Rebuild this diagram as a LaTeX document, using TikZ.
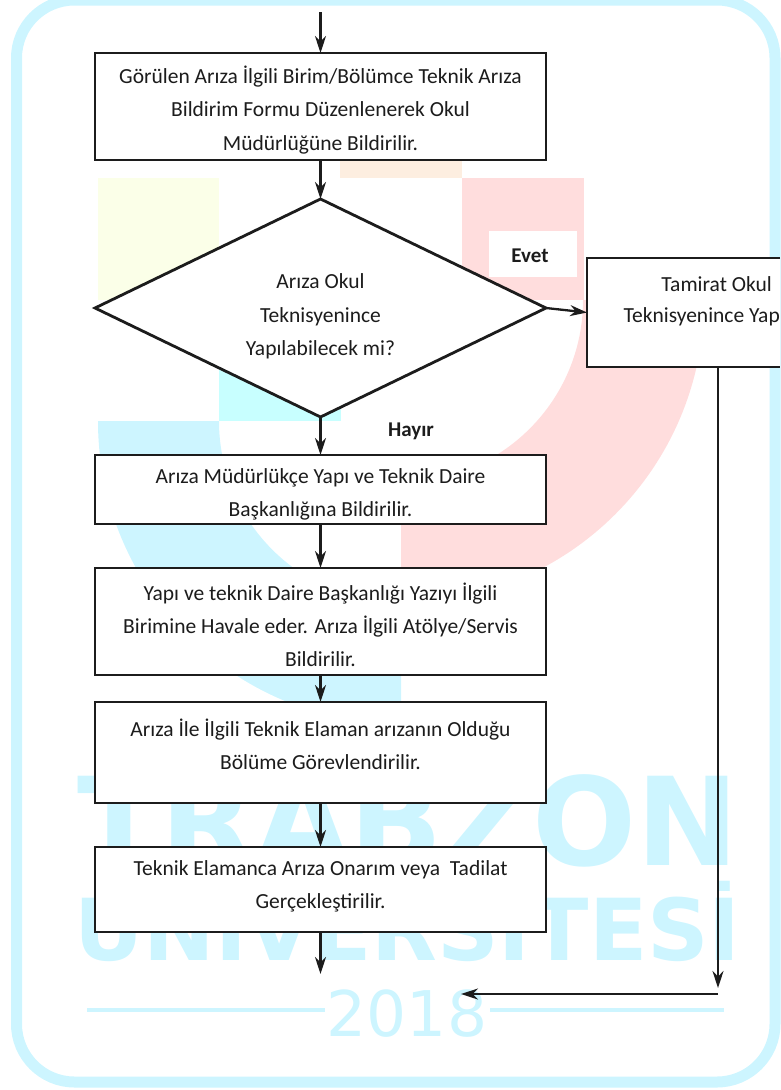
\documentclass[tikz,border=0pt]{standalone}
\usepackage{fontspec}
\setmainfont{Carlito}
\newfontfamily\wmfont{DejaVu Sans}
\usetikzlibrary{arrows.meta,shapes.geometric}
\definecolor{wm}{HTML}{CDF5FF}
\definecolor{wmsq}{HTML}{C8FFFF}
\definecolor{wmpink}{HTML}{FFDDDD}
\definecolor{wmyel}{HTML}{FBFFE8}
\definecolor{wmora}{HTML}{FDEEE0}
\definecolor{ink}{HTML}{1C1C1C}
\tikzset{
  x=1pt,y=-1pt,
  flowbox/.style={draw=ink,line width=2.8pt,fill=white,minimum width=451pt,inner sep=0pt,outer sep=0pt},
  plainbox/.style={fill=white,inner sep=0pt,outer sep=0pt},
  decide/.style={diamond,draw=ink,line width=2.8pt,fill=white,minimum width=451pt,minimum height=218pt,inner sep=0pt,outer sep=0pt},
  txt/.style={align=center,text=ink,inner sep=0pt,font=\fontsize{21.5}{33.3}\selectfont},
  onetxt/.style={text=ink,inner sep=0pt,font=\fontsize{21.5}{26}\selectfont},
  boldtxt/.style={text=ink,inner sep=0pt,font=\fontsize{21}{26}\selectfont\bfseries},
  flow/.style={draw=ink,line width=2.3pt,-{Stealth[length=17pt,width=11pt]}},
  wmtxt/.style={text=wm,inner sep=0pt},
}
\begin{document}
\begin{tikzpicture}
\useasboundingbox (0,0) rectangle (780,1090);
% watermark
\fill[wmyel] (98,178) rectangle (219,300);
\fill[wmora] (340,160) rectangle (462,178);
\fill[wmpink] (462,178) rectangle (584,300);
\fill[wmsq] (219,300) rectangle (341,421);
\begin{scope}
  \clip (401,300) rectangle (720,620);
  \draw[wmpink,line width=121pt] (401,300) circle[radius=242.5pt];
\end{scope}
\begin{scope}
  \clip (90,421) rectangle (401,730);
  \draw[wm,line width=121pt] (401,421) circle[radius=242.5pt];
\end{scope}
\draw[wm,line width=11pt,rounded corners=58pt] (16.5,0) rectangle (775,1082);
\node[wmtxt,anchor=base,font=\wmfont\bfseries\fontsize{122.5}{122.5}\selectfont] (wm1) at (408,865) {TRABZON};
\node[wmtxt,anchor=base,font=\wmfont\bfseries\fontsize{85.5}{85.5}\selectfont] (wm2) at (407.5,960) {ÜNİVERSİTESİ};
\node[wmtxt,anchor=base,font=\wmfont\fontsize{63}{63}\selectfont] (wm3) at (407,1036) {2018};
\fill[wm] (87,1008) rectangle (325,1012);
\fill[wm] (490,1008) rectangle (724,1012);
% boxes
\node[flowbox,minimum height=107pt] (b1) at (320.5,106.5) {};
\node[txt] (b1t) at (320.5,110) {Görülen Arıza İlgili Birim/Bölümce Teknik Arıza\\Bildirim Formu Düzenlenerek Okul\\Müdürlüğüne Bildirilir.};
\node[decide] (d) at (320.5,308) {};
\node[txt] (dt) at (320.5,316.5) {Arıza Okul\\Teknisyenince\\Yapılabilecek mi?};
\node[plainbox,minimum width=88pt,minimum height=46pt] (ev) at (533,254) {};
\node[boldtxt] (evt) at (530,256) {Evet};
\node[plainbox,minimum width=193pt,minimum height=109pt] (t) at (683.5,312.5) {};
\draw[ink,line width=2.8pt] (t.north east) -- (t.north west) -- (t.south west) -- (t.south east);
\node[onetxt,anchor=east] (tt1) at (772,284) {Tamirat Okul};
\node[onetxt,anchor=east] (tt2) at (780,317) {Teknisyenince Yap};
\node[boldtxt] (hy) at (411,431) {Hayır};
\node[flowbox,minimum height=69pt] (b3) at (320.5,489.5) {};
\node[txt] (b3t) at (320.5,494.5) {Arıza Müdürlükçe Yapı ve Teknik Daire\\Başkanlığına Bildirilir.};
\node[flowbox,minimum height=107pt] (b4) at (320.5,621.5) {};
\node[txt] (b4t) at (320.5,625) {Yapı ve teknik Daire Başkanlığı Yazıyı İlgili\\Birimine Havale eder. Arıza İlgili Atölye/Servis\\Bildirilir.};
\node[flowbox,minimum height=101pt] (b5) at (320.5,752.5) {};
\node[txt] (b5t) at (320.5,744) {Arıza İle İlgili Teknik Elaman arızanın Olduğu\\Bölüme Görevlendirilir.};
\node[flowbox,minimum height=85pt] (b6) at (320.5,889.5) {};
\node[txt] (b6t) at (320.5,886) {Teknik Elamanca Arıza Onarım veya\ \ Tadilat\\Gerçekleştirilir.};
% connectors
\coordinate (start) at (320.5,12);
\coordinate (end) at (320.5,974);
\coordinate (tout) at (718,367);
\coordinate (corner) at (718,988);
\coordinate (jr) at (718,994);
\coordinate (jl) at (461,994);
\draw[flow] (start) -- (b1.north);
\draw[flow] (b1.south) -- (d.north);
\draw[flow] (d.south) -- (b3.north);
\draw[flow] (d.east) -- (t.west);
\draw[flow] (b3.south) -- (b4.north);
\draw[flow] (b4.south) -- (b5.north);
\draw[flow] (b5.south) -- (b6.north);
\draw[flow] (b6.south) -- (end);
\draw[flow,line width=1.8pt] (tout) -- (corner);
\draw[flow] (jr) -- (jl);
\end{tikzpicture}
\end{document}
